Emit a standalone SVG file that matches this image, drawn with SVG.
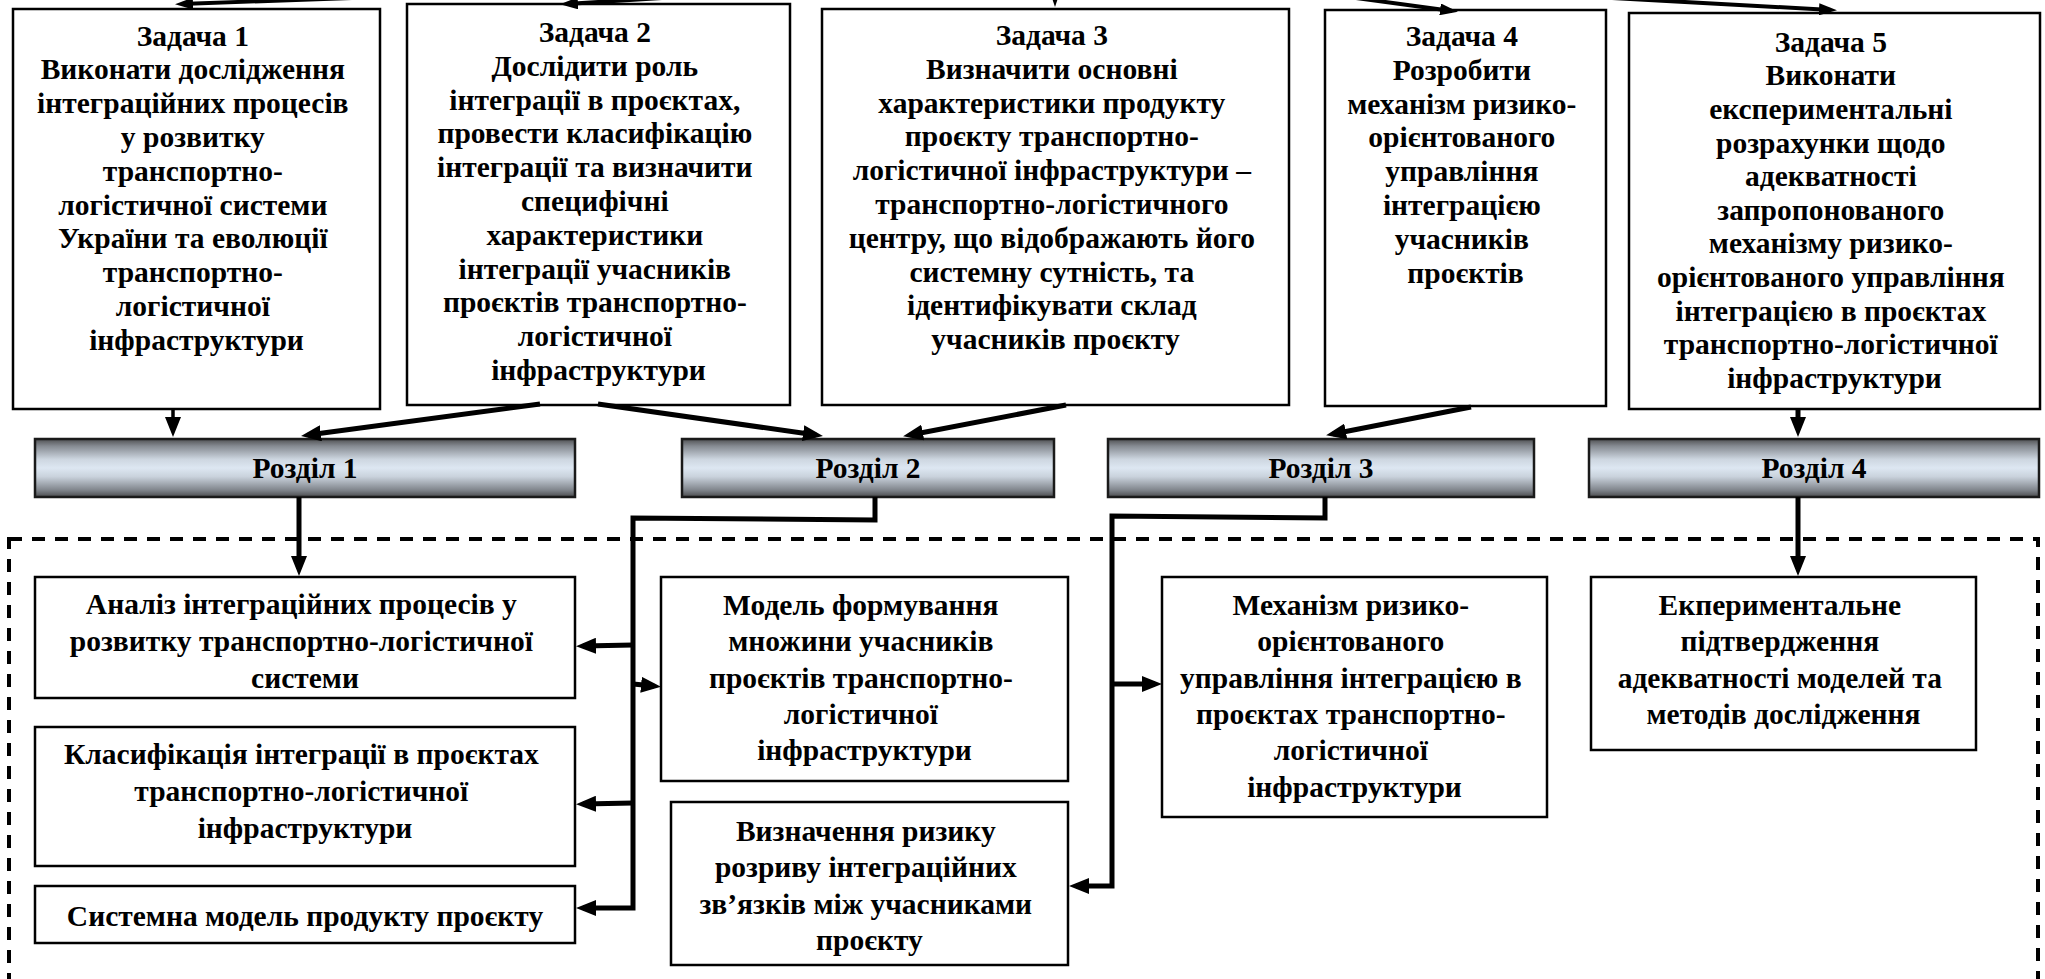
<svg xmlns="http://www.w3.org/2000/svg" width="2045" height="979" viewBox="0 0 2045 979">
  <style>
    .box { fill: #ffffff; stroke: #000000; stroke-width: 2.5; }
    .bar { fill: url(#barFill); stroke: #1a1a1a; stroke-width: 2.5; }
    .t { font-family: "Liberation Serif", "Times New Roman", serif; font-weight: bold; font-size: 29.5px; fill: #000000; text-anchor: middle; }
    .wire { fill: none; stroke: #000000; stroke-width: 5; stroke-linejoin: miter; }
    .thin { fill: none; stroke: #000000; stroke-width: 4; }
    .frame { fill: none; stroke: #000000; stroke-width: 4; stroke-dasharray: 13 10; }
  </style>
  <defs>
    <linearGradient id="barFill" x1="0" y1="0" x2="0" y2="1">
      <stop offset="0" stop-color="#4f5052"/>
      <stop offset="0.12" stop-color="#858a91"/>
      <stop offset="0.35" stop-color="#cdd6e0"/>
      <stop offset="0.5" stop-color="#dde7f2"/>
      <stop offset="0.65" stop-color="#c9d2dc"/>
      <stop offset="0.88" stop-color="#80858c"/>
      <stop offset="1" stop-color="#4a4b4d"/>
    </linearGradient>
    <marker id="ah" markerUnits="userSpaceOnUse" markerWidth="20" markerHeight="16" refX="13" refY="8" orient="auto">
      <path d="M0,0 L20,8 L0,16 Z" fill="#000000"/>
    </marker>
    <marker id="ahs" markerUnits="userSpaceOnUse" markerWidth="18" markerHeight="12" refX="12" refY="6" orient="auto">
      <path d="M0,0 L18,6 L0,12 Z" fill="#000000"/>
    </marker>
  </defs>

  <!-- dashed frame around the results area (bottom edge runs past the sheet) -->
  <rect id="results-frame" class="frame" x="9" y="539" width="2029" height="460"/>

  <!-- tasks -->
  <g id="task1">
    <rect class="box" x="13" y="9" width="367" height="400"/>
    <text class="t" x="196.5" y="45.5">
      <tspan x="196.5">Задача 1</tspan>
      <tspan x="196.5" dy="33.8">Виконати дослідження</tspan>
      <tspan x="196.5" dy="33.8">інтеграційних процесів</tspan>
      <tspan x="196.5" dy="33.8">у розвитку</tspan>
      <tspan x="196.5" dy="33.8">транспортно-</tspan>
      <tspan x="196.5" dy="33.8">логістичної системи</tspan>
      <tspan x="196.5" dy="33.8">України та еволюції</tspan>
      <tspan x="196.5" dy="33.8">транспортно-</tspan>
      <tspan x="196.5" dy="33.8">логістичної</tspan>
      <tspan x="196.5" dy="33.8">інфраструктури</tspan>
    </text>
  </g>
  <g id="task2">
    <rect class="box" x="407" y="4" width="383" height="401"/>
    <text class="t" x="598.5" y="42">
      <tspan x="598.5">Задача 2</tspan>
      <tspan x="598.5" dy="33.8">Дослідити роль</tspan>
      <tspan x="598.5" dy="33.8">інтеграції в проєктах,</tspan>
      <tspan x="598.5" dy="33.8">провести класифікацію</tspan>
      <tspan x="598.5" dy="33.8">інтеграції та визначити</tspan>
      <tspan x="598.5" dy="33.8">специфічні</tspan>
      <tspan x="598.5" dy="33.8">характеристики</tspan>
      <tspan x="598.5" dy="33.8">інтеграції учасників</tspan>
      <tspan x="598.5" dy="33.8">проєктів транспортно-</tspan>
      <tspan x="598.5" dy="33.8">логістичної</tspan>
      <tspan x="598.5" dy="33.8">інфраструктури</tspan>
    </text>
  </g>
  <g id="task3">
    <rect class="box" x="822" y="9" width="467" height="396"/>
    <text class="t" x="1055.5" y="45">
      <tspan x="1055.5">Задача 3</tspan>
      <tspan x="1055.5" dy="33.8">Визначити основні</tspan>
      <tspan x="1055.5" dy="33.8">характеристики продукту</tspan>
      <tspan x="1055.5" dy="33.8">проєкту транспортно-</tspan>
      <tspan x="1055.5" dy="33.8">логістичної інфраструктури –</tspan>
      <tspan x="1055.5" dy="33.8">транспортно-логістичного</tspan>
      <tspan x="1055.5" dy="33.8">центру, що відображають його</tspan>
      <tspan x="1055.5" dy="33.8">системну сутність, та</tspan>
      <tspan x="1055.5" dy="33.8">ідентифікувати склад</tspan>
      <tspan x="1055.5" dy="33.8">учасників проєкту</tspan>
    </text>
  </g>
  <g id="task4">
    <rect class="box" x="1325" y="10" width="281" height="396"/>
    <text class="t" x="1465.5" y="46">
      <tspan x="1465.5">Задача 4</tspan>
      <tspan x="1465.5" dy="33.8">Розробити</tspan>
      <tspan x="1465.5" dy="33.8">механізм ризико-</tspan>
      <tspan x="1465.5" dy="33.8">орієнтованого</tspan>
      <tspan x="1465.5" dy="33.8">управління</tspan>
      <tspan x="1465.5" dy="33.8">інтеграцією</tspan>
      <tspan x="1465.5" dy="33.8">учасників</tspan>
      <tspan x="1465.5" dy="33.8">проєктів</tspan>
    </text>
  </g>
  <g id="task5">
    <rect class="box" x="1629" y="13" width="411" height="396"/>
    <text class="t" x="1834.5" y="51.7">
      <tspan x="1834.5">Задача 5</tspan>
      <tspan x="1834.5" dy="33.6">Виконати</tspan>
      <tspan x="1834.5" dy="33.6">експериментальні</tspan>
      <tspan x="1834.5" dy="33.6">розрахунки щодо</tspan>
      <tspan x="1834.5" dy="33.6">адекватності</tspan>
      <tspan x="1834.5" dy="33.6">запропонованого</tspan>
      <tspan x="1834.5" dy="33.6">механізму ризико-</tspan>
      <tspan x="1834.5" dy="33.6">орієнтованого управління</tspan>
      <tspan x="1834.5" dy="33.6">інтеграцією в проєктах</tspan>
      <tspan x="1834.5" dy="33.6">транспортно-логістичної</tspan>
      <tspan x="1834.5" dy="33.6">інфраструктури</tspan>
    </text>
  </g>

  <!-- sections -->
  <g id="section1">
    <rect class="bar" x="35" y="439" width="540" height="58"/>
    <text class="t" x="305" y="478">Розділ 1</text>
  </g>
  <g id="section2">
    <rect class="bar" x="682" y="439" width="372" height="58"/>
    <text class="t" x="868" y="478">Розділ 2</text>
  </g>
  <g id="section3">
    <rect class="bar" x="1108" y="439" width="426" height="58"/>
    <text class="t" x="1321" y="478">Розділ 3</text>
  </g>
  <g id="section4">
    <rect class="bar" x="1589" y="439" width="450" height="58"/>
    <text class="t" x="1814" y="478">Розділ 4</text>
  </g>

  <!-- results -->
  <g id="result-analysis">
    <rect class="box" x="35" y="577" width="540" height="121"/>
    <text class="t" x="305" y="614">
      <tspan x="305">Аналіз інтеграційних процесів у</tspan>
      <tspan x="305" dy="37">розвитку транспортно-логістичної</tspan>
      <tspan x="305" dy="37">системи</tspan>
    </text>
  </g>
  <g id="result-classification">
    <rect class="box" x="35" y="727" width="540" height="139"/>
    <text class="t" x="305" y="764">
      <tspan x="305">Класифікація інтеграції в проєктах</tspan>
      <tspan x="305" dy="37">транспортно-логістичної</tspan>
      <tspan x="305" dy="37">інфраструктури</tspan>
    </text>
  </g>
  <g id="result-system-model">
    <rect class="box" x="35" y="886" width="540" height="57"/>
    <text class="t" x="305" y="926">Системна модель продукту проєкту</text>
  </g>
  <g id="result-participants-model">
    <rect class="box" x="661" y="577" width="407" height="204"/>
    <text class="t" x="864.5" y="615">
      <tspan x="864.5">Модель формування</tspan>
      <tspan x="864.5" dy="36.3">множини учасників</tspan>
      <tspan x="864.5" dy="36.3">проєктів транспортно-</tspan>
      <tspan x="864.5" dy="36.3">логістичної</tspan>
      <tspan x="864.5" dy="36.3">інфраструктури</tspan>
    </text>
  </g>
  <g id="result-risk">
    <rect class="box" x="671" y="802" width="397" height="163"/>
    <text class="t" x="869.5" y="841">
      <tspan x="869.5">Визначення ризику</tspan>
      <tspan x="869.5" dy="36.3">розриву інтеграційних</tspan>
      <tspan x="869.5" dy="36.3">зв’язків між учасниками</tspan>
      <tspan x="869.5" dy="36.3">проєкту</tspan>
    </text>
  </g>
  <g id="result-mechanism">
    <rect class="box" x="1162" y="577" width="385" height="240"/>
    <text class="t" x="1354.5" y="615">
      <tspan x="1354.5">Механізм ризико-</tspan>
      <tspan x="1354.5" dy="36.3">орієнтованого</tspan>
      <tspan x="1354.5" dy="36.3">управління інтеграцією в</tspan>
      <tspan x="1354.5" dy="36.3">проєктах транспортно-</tspan>
      <tspan x="1354.5" dy="36.3">логістичної</tspan>
      <tspan x="1354.5" dy="36.3">інфраструктури</tspan>
    </text>
  </g>
  <g id="result-experiment">
    <rect class="box" x="1591" y="577" width="385" height="173"/>
    <text class="t" x="1783.5" y="615">
      <tspan x="1783.5">Екпериментальне</tspan>
      <tspan x="1783.5" dy="36.3">підтвердження</tspan>
      <tspan x="1783.5" dy="36.3">адекватності моделей та</tspan>
      <tspan x="1783.5" dy="36.3">методів дослідження</tspan>
    </text>
  </g>

  <!-- connectors -->
  <g id="connectors">
    <!-- incoming from above the sheet -->
    <path class="thin" d="M352,-2 L181,4" marker-end="url(#ahs)"/>
    <path class="thin" d="M662,-2 L566,4" marker-end="url(#ahs)"/>
    <path class="thin" d="M1055,-4 L1055,1" marker-end="url(#ahs)"/>
    <path class="thin" d="M1356,-2 L1452,11" marker-end="url(#ahs)"/>
    <path class="thin" d="M1612,-2 L1831,10" marker-end="url(#ahs)"/>

    <!-- tasks to sections -->
    <path class="wire" d="M173,409 L173,430" marker-end="url(#ah)" style="stroke-width:3.5"/>
    <path class="wire" d="M540,404 L308,435" marker-end="url(#ah)"/>
    <path class="wire" d="M598,404 L816,435" marker-end="url(#ah)"/>
    <path class="wire" d="M1066,405 L910,435" marker-end="url(#ah)"/>
    <path class="wire" d="M1471,407 L1333,434" marker-end="url(#ah)"/>
    <path class="wire" d="M1798,409 L1798,430" marker-end="url(#ah)"/>

    <!-- sections to results -->
    <path class="wire" d="M299,497 L299,569" marker-end="url(#ah)"/>
    <path class="wire" d="M1798,497 L1798,569" marker-end="url(#ah)"/>

    <!-- section 2 bus -->
    <path class="wire" d="M875,497 L875,520 L633,518 L633,908 L583,908" marker-end="url(#ah)"/>
    <path class="wire" d="M633,645 L583,646" marker-end="url(#ah)"/>
    <path class="wire" d="M633,803 L583,804" marker-end="url(#ah)"/>
    <path class="wire" d="M633,684 L654,686" marker-end="url(#ah)"/>

    <!-- section 3 bus -->
    <path class="wire" d="M1325,497 L1325,518 L1112,516 L1112,886 L1076,886" marker-end="url(#ah)"/>
    <path class="wire" d="M1112,684 L1155,684" marker-end="url(#ah)"/>
  </g>
</svg>
